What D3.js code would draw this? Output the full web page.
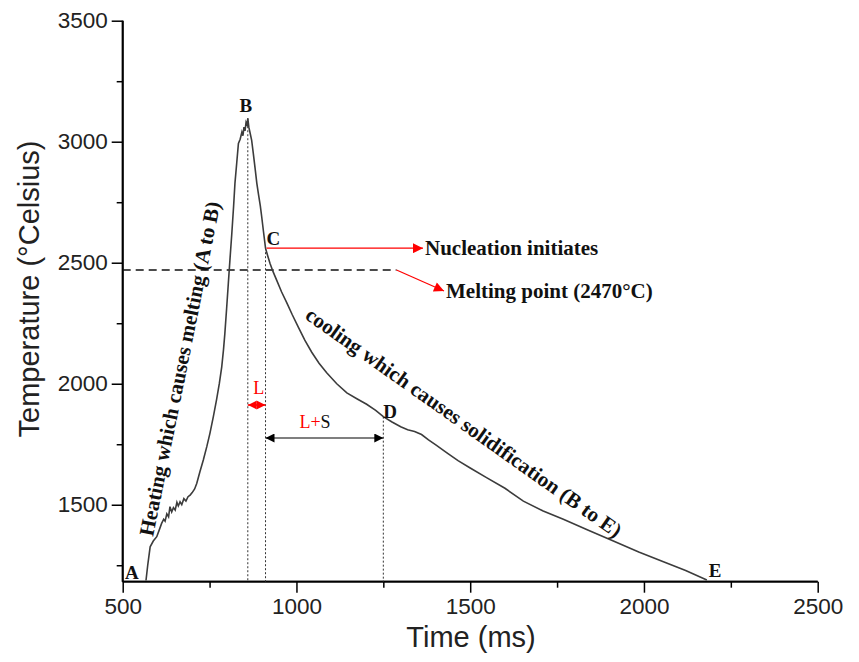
<!DOCTYPE html>
<html>
<head>
<meta charset="utf-8">
<script src="https://cdn.jsdelivr.net/npm/d3@7"></script>
<style>
  body { margin: 0; background: #fff; }
  svg { display: block; }
</style>
</head>
<body>
<script>
// temperature trace (ms, °C)
var time = [567, 572, 579, 588, 598, 605, 612, 618, 622, 627, 632, 636, 641, 646, 651, 656, 660, 665, 670, 676,
  682, 688, 694, 700, 707, 713, 722, 732, 742, 751, 761, 770, 778, 785, 790, 794, 799, 804, 809, 814,
  819, 823, 828, 833, 838, 843, 846, 849, 852, 855, 858, 860, 863, 866, 871, 876, 881, 886, 891, 896,
  900, 905, 911, 917, 924, 933, 943, 957, 972, 988, 1005, 1024, 1044, 1065, 1087, 1116, 1145, 1175, 1202, 1228,
  1250, 1275, 1300, 1320, 1340, 1360, 1380, 1400, 1432, 1465, 1500, 1547, 1600, 1653, 1710, 1768, 1840, 1912, 1985, 2056,
  2120, 2181];
var temp = [1187, 1250, 1326, 1350, 1368, 1395, 1423, 1440, 1432, 1462, 1450, 1492, 1470, 1488, 1478, 1510, 1495, 1512, 1500, 1525,
  1515, 1533, 1540, 1550, 1565, 1588, 1635, 1685, 1740, 1795, 1865, 1933, 2000, 2070, 2140, 2208, 2310, 2415, 2520, 2621,
  2730, 2828, 2910, 2993, 3010, 3040, 3025, 3060, 3045, 3080, 3070, 3097, 3060, 3040, 3007, 2950, 2890, 2828, 2780, 2735,
  2690, 2630, 2560, 2530, 2497, 2462, 2428, 2380, 2335, 2285, 2235, 2180, 2130, 2085, 2045, 2000, 1962, 1937, 1915, 1890,
  1864, 1842, 1822, 1810, 1803, 1790, 1768, 1748, 1715, 1682, 1652, 1612, 1568, 1515, 1474, 1440, 1395, 1350, 1305, 1264,
  1228, 1189];

var xTicks = [500, 1000, 1500, 2000, 2500];
var xMinor = [750, 1250, 1750, 2250];
var yTicks = [1500, 2000, 2500, 3000, 3500];
var yMinor = [1250, 1750, 2250, 2750, 3250];

var pointLabels = ["A", "B", "C", "D", "E"];
var pointTimes = [567, 860, 911, 1250, 2181];
var pointTemps = [1187, 3097, 2560, 1864, 1189];

var meltingPoint = 2470;

var W = 859, H = 662;
var svg = d3.select("body").append("svg").attr("width", W).attr("height", H);

var x = d3.scaleLinear().domain([500, 2500]).range([122.7, 817.7]);
var y = d3.scaleLinear().domain([1182, 3500]).range([581.7, 20.7]);
var y0 = y.range()[0];

var axisFont = "Arial, 'Liberation Sans', sans-serif";
var serif = "'Times New Roman', 'Liberation Serif', serif";

// axes
var gx = svg.append("g").attr("transform", "translate(0," + y0 + ")")
  .call(d3.axisBottom(x).tickValues(xTicks).tickSize(11).tickPadding(5).tickFormat(d3.format("d")));
gx.append("g").call(d3.axisBottom(x).tickValues(xMinor).tickSize(6).tickFormat(""));
var gy = svg.append("g").attr("transform", "translate(" + x(500) + ",0)")
  .call(d3.axisLeft(y).tickValues(yTicks).tickSize(11).tickPadding(4).tickFormat(d3.format("d")));
gy.append("g").call(d3.axisLeft(y).tickValues(yMinor).tickSize(6).tickFormat(""));

svg.selectAll(".domain").attr("stroke", "#000").attr("stroke-width", 1.8);
svg.selectAll(".tick line").attr("stroke", "#000").attr("stroke-width", 1.5);
svg.selectAll(".tick text").attr("font-family", axisFont).attr("font-size", 22.5).attr("fill", "#222");
gy.selectAll(".domain").attr("d", "M0," + y(3500) + "V" + y0);
gx.selectAll(".domain").attr("d", "M" + x(500) + ",0H" + x(2500));

svg.append("text")
  .attr("x", 471).attr("y", 647)
  .attr("text-anchor", "middle")
  .attr("font-family", axisFont).attr("font-size", 29).attr("fill", "#222")
  .text("Time (ms)");
svg.append("text")
  .attr("transform", "translate(39,289) rotate(-90)")
  .attr("text-anchor", "middle")
  .attr("font-family", axisFont).attr("font-size", 29).attr("fill", "#222")
  .text("Temperature (°Celsius)");

// arrow heads
var defs = svg.append("defs");
function marker(id, color, w, h) {
  defs.append("marker").attr("id", id)
    .attr("viewBox", "0 0 10 10").attr("refX", 10).attr("refY", 5)
    .attr("markerWidth", w).attr("markerHeight", h).attr("markerUnits", "userSpaceOnUse")
    .attr("orient", "auto-start-reverse")
    .append("path").attr("d", "M0,0L10,5L0,10Z").attr("fill", color);
}
marker("redHead", "#f00", 13, 10);
marker("redSmall", "#f00", 9, 10);
marker("blackHead", "#000", 13, 9);

// melting point dashed line
svg.append("line")
  .attr("x1", x(500)).attr("x2", x(1288))
  .attr("y1", y(meltingPoint)).attr("y2", y(meltingPoint))
  .attr("stroke", "#111").attr("stroke-width", 1.6).attr("stroke-dasharray", "8,5");

// vertical dotted lines at B, C, D
[1, 2, 3].forEach(function(i) {
  svg.append("line")
    .attr("x1", x(pointTimes[i])).attr("x2", x(pointTimes[i]))
    .attr("y1", y(pointTemps[i])).attr("y2", y0)
    .attr("stroke", "#333").attr("stroke-width", 1).attr("stroke-dasharray", "2,2");
});

// curve
var pts = time.map(function(t, i) { return [t, temp[i]]; });
svg.append("path")
  .datum(pts)
  .attr("fill", "none")
  .attr("stroke", "#3c3c3c")
  .attr("stroke-width", 1.6)
  .attr("d", d3.line().x(function(d) { return x(d[0]); }).y(function(d) { return y(d[1]); }));

// point labels
var labelDx = [-14, -2, 1, 0, 2];
var labelDy = [-1, -6, -3, 1, -3];
pointLabels.forEach(function(l, i) {
  svg.append("text")
    .attr("x", x(pointTimes[i]) + labelDx[i])
    .attr("y", y(pointTemps[i]) + labelDy[i])
    .attr("text-anchor", i == 0 || i == 1 ? "middle" : "start")
    .attr("font-family", serif).attr("font-weight", "bold").attr("font-size", 19).attr("fill", "#111")
    .text(l);
});

// nucleation arrow
svg.append("line")
  .attr("x1", x(pointTimes[2]) + 1).attr("x2", 423)
  .attr("y1", y(pointTemps[2])).attr("y2", y(pointTemps[2]))
  .attr("stroke", "#f00").attr("stroke-width", 1.2).attr("marker-end", "url(#redHead)");
svg.append("text")
  .attr("x", 425).attr("y", y(pointTemps[2]) + 7)
  .attr("font-family", serif).attr("font-weight", "bold").attr("font-size", 21).attr("fill", "#111")
  .text("Nucleation initiates");

// melting point arrow
svg.append("line")
  .attr("x1", x(1288)).attr("x2", 444)
  .attr("y1", y(meltingPoint)).attr("y2", 291)
  .attr("stroke", "#f00").attr("stroke-width", 1.2).attr("marker-end", "url(#redHead)");
svg.append("text")
  .attr("x", 446).attr("y", 298)
  .attr("font-family", serif).attr("font-weight", "bold").attr("font-size", 21).attr("fill", "#111")
  .text("Melting point (2470°C)");

// L region
svg.append("line")
  .attr("x1", x(pointTimes[1])).attr("x2", x(pointTimes[2]))
  .attr("y1", 405).attr("y2", 405)
  .attr("stroke", "#f00").attr("stroke-width", 1.5)
  .attr("marker-start", "url(#redSmall)").attr("marker-end", "url(#redSmall)");
svg.append("text")
  .attr("x", (x(pointTimes[1]) + x(pointTimes[2])) / 2 + 2).attr("y", 394)
  .attr("text-anchor", "middle")
  .attr("font-family", serif).attr("font-size", 18).attr("fill", "#f00")
  .text("L");

// L+S region
svg.append("line")
  .attr("x1", x(pointTimes[2])).attr("x2", x(pointTimes[3]))
  .attr("y1", 438).attr("y2", 438)
  .attr("stroke", "#000").attr("stroke-width", 1.2)
  .attr("marker-start", "url(#blackHead)").attr("marker-end", "url(#blackHead)");
var ls = svg.append("text")
  .attr("x", 315).attr("y", 428)
  .attr("text-anchor", "middle")
  .attr("font-family", serif).attr("font-size", 18);
ls.append("tspan").attr("fill", "#f00").text("L+");
ls.append("tspan").attr("fill", "#111").text("S");

// slanted phase captions
svg.append("text")
  .attr("transform", "translate(153,537) rotate(-78.6)")
  .attr("font-family", serif).attr("font-weight", "bold").attr("font-size", 21).attr("fill", "#111")
  .text("Heating which causes melting (A to B)");
svg.append("text")
  .attr("transform", "translate(304,318) rotate(35.3)")
  .attr("font-family", serif).attr("font-weight", "bold").attr("font-size", 21).attr("fill", "#111")
  .text("cooling which causes solidification (B to E)");
</script>
</body>
</html>
